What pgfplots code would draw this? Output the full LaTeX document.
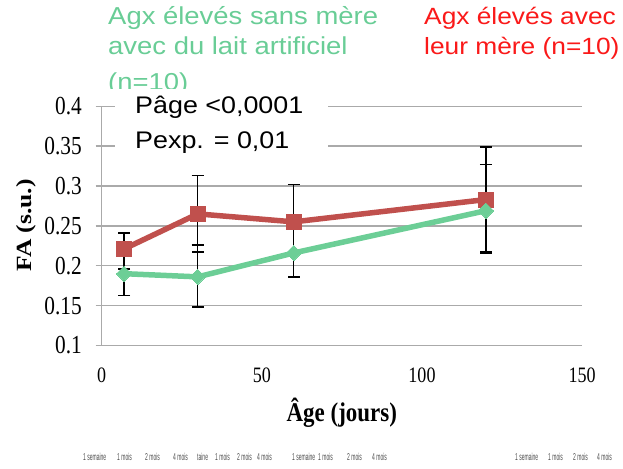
\documentclass[border=0pt]{standalone}
\usepackage{pgfplots}
\pgfplotsset{compat=1.18}
\usepackage{pgfplotstable}
\usepackage{fontspec}
\setmainfont{Liberation Serif}
\newfontfamily\tickserif[FakeStretch=0.82]{Liberation Serif}
\newfontfamily\labserif[FakeStretch=0.85]{Liberation Serif}
\newfontfamily\wide[FakeStretch=1.12]{Liberation Sans}
\newfontfamily\tinyf[FakeStretch=0.5]{Liberation Sans}
\definecolor{redline}{RGB}{192,80,77}
\definecolor{greenline}{RGB}{108,206,150}
\definecolor{greentext}{RGB}{105,205,150}
\definecolor{redtext}{RGB}{250,25,25}
\definecolor{gridgray}{RGB}{170,170,170}

\pgfplotstableread{
x y ep em
7   0.221 0.020 0.025
30  0.265 0.048 0.048
60  0.255 0.047 0.040
120 0.283 0.066 0.066
}\mere
\pgfplotstableread{
x y ep em
7   0.190 0.025 0.027
30  0.186 0.040 0.038
60  0.216 0.035 0.030
120 0.269 0.058 0.054
}\sansmere

\begin{document}
\begin{tikzpicture}
\useasboundingbox (0pt,0pt) rectangle (623pt,468pt);
% green legend text, third line partly hidden
\node[anchor=base west, inner sep=0pt, text=greentext, font=\wide\fontsize{24.5}{30}\selectfont] at (108pt,443pt) {Agx élevés sans mère};
\node[anchor=base west, inner sep=0pt, text=greentext, font=\wide\fontsize{24.5}{30}\selectfont] at (108pt,413pt) {avec du lait artificiel};
\begin{scope}
\clip (100pt,379pt) rectangle (420pt,400pt);
\node[anchor=base west, inner sep=0pt, text=greentext, font=\wide\fontsize{24.5}{30}\selectfont] at (108pt,377pt) {(n=10)};
\end{scope}
\node[anchor=base west, inner sep=0pt, text=redtext, font=\wide\fontsize{23.5}{30}\selectfont] at (424pt,443pt) {Agx élevés avec};
\node[anchor=base west, inner sep=0pt, text=redtext, font=\wide\fontsize{23.5}{30}\selectfont] at (424pt,413pt) {leur mère (n=10)};

\begin{axis}[
  at={(101.6pt,122.6pt)}, anchor=south west, scale only axis,
  width=480.4pt, height=239.1pt,
  xmin=0, xmax=150, ymin=0.1, ymax=0.4,
  xtick={0,50,100,150},
  ytick={0.1,0.15,0.2,0.25,0.3,0.35,0.4},
  yticklabels={0.1,0.15,0.2,0.25,0.3,0.35,0.4},
  axis x line=none,
  axis y line=left,
  axis line style={-, draw=gridgray, line width=1.5pt},
  ymajorgrids,
  grid style={draw=gridgray, line width=1.5pt},
  major y tick style={draw=gridgray, line width=1.5pt},
  tick align=outside, major tick length=6pt,
  yticklabel style={font=\tickserif\fontsize{26}{26}\selectfont, anchor=east, inner sep=0pt, xshift=-13.6pt},
  clip=false,
]
\addplot[redline, line width=5.5pt, mark=square*, mark size=7.5pt,
  mark options={fill=redline, draw=redline, line width=0pt},
  error bars/.cd, y dir=both, y explicit,
  error bar style={black, line width=1.3pt},
  error mark options={rotate=90, mark size=6pt, black, line width=1.3pt}]
  table[x=x, y=y, y error plus=ep, y error minus=em] {\mere};
\addplot[greenline, line width=5.5pt, mark=square*, mark size=5.4pt,
  mark options={rotate=45, fill=greenline, draw=greenline, line width=0pt},
  error bars/.cd, y dir=both, y explicit,
  error bar style={black, line width=1.3pt},
  error mark options={rotate=90, mark size=6pt, black, line width=1.3pt}]
  table[x=x, y=y, y error plus=ep, y error minus=em] {\sansmere};
\end{axis}
% x tick labels (x axis line hidden)
\foreach \v/\px in {0/101.6, 50/261.8, 100/422, 150/582.2}
  \node[font=\tickserif\fontsize{22}{22}\selectfont, inner sep=0pt] at (\px pt,92.5pt) {\v};
\node[anchor=base, inner sep=0pt, font=\labserif\bfseries\fontsize{27}{27}\selectfont] at (341.8pt,46.3pt) {Âge (jours)};
\node[rotate=90, inner sep=0pt, font=\bfseries\fontsize{25.5}{25.5}\selectfont] at (26pt,242.5pt) {\scalebox{1}[0.85]{FA (s.u.)}};
% annotation box
\fill[white] (115pt,303pt) rectangle (328pt,379pt);
\node[anchor=base west, inner sep=0pt, font=\wide\fontsize{24}{30}\selectfont] at (135pt,354.7pt) {Pâge <0,0001};
\node[anchor=base west, inner sep=0pt, font=\wide\fontsize{24}{30}\selectfont] at (135pt,319.7pt) {Pexp. = 0,01};
% tiny residual labels at the bottom
\foreach \px/\t in {83/1 semaine, 117/1 mois, 145/2 mois, 173/4 mois, 197/taine, 215/1 mois, 237/2 mois, 257/4 mois, 292/1 semaine, 318/1 mois, 347/2 mois, 372/4 mois, 515/1 semaine, 548/1 mois, 573/2 mois, 597/4 mois}
  \node[anchor=west, inner sep=0pt, text=black!70, font=\tinyf\fontsize{10}{10}\selectfont] at (\px pt,11pt) {\t};
\end{tikzpicture}
\end{document}
